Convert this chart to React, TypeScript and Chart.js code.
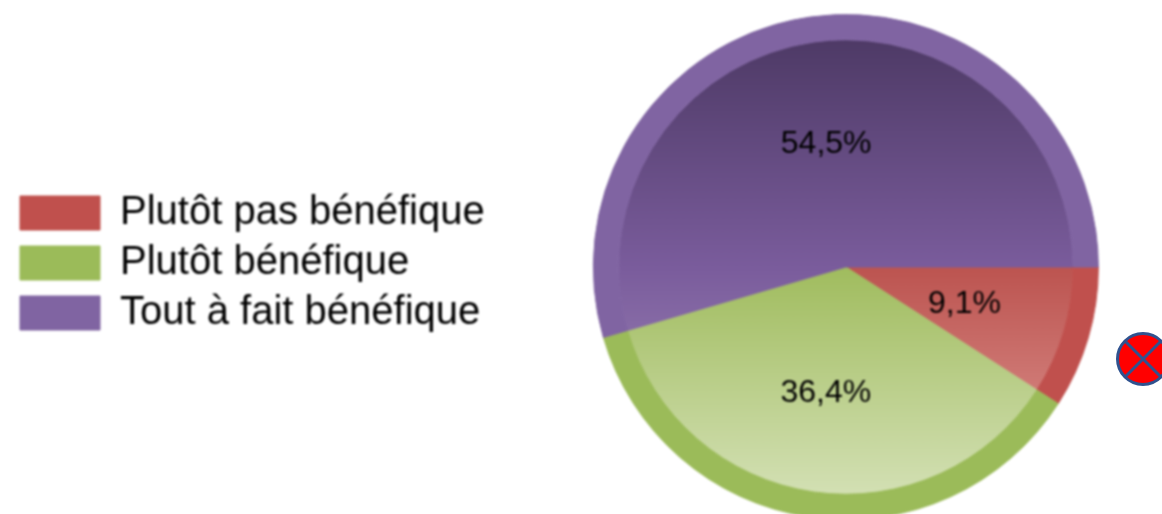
import React, { useEffect, useRef } from "react";
import { Chart, registerables } from "chart.js";

Chart.register(...registerables);

const categories = ["Plutôt pas bénéfique", "Plutôt bénéfique", "Tout à fait bénéfique"];
const shares = [9.1, 36.4, 54.5];
const ringColors = ["#c0504d", "#9bbb59", "#8064a2"];
const darkStops = ["#a8403c", "#7f9a45", "#4e3a66"];
const midStops = ["#bc5450", "#a0bc5e", "#7a5c9c"];
const lightStops = ["#e09a96", "#d3e0b4", "#a892c0"];

const percentLabels = {
  id: "percentLabels",
  afterLayout(chart: any) {
    chart.legend.top -= 4;
    chart.legend.bottom -= 4;
  },
  afterDatasetsDraw(chart: any) {
    const meta = chart.getDatasetMeta(1);
    const { ctx } = chart;
    ctx.save();
    ctx.font = '32px "Liberation Sans"';
    ctx.fillStyle = "#000000";
    ctx.textAlign = "center";
    ctx.textBaseline = "middle";
    meta.data.forEach((arc: any, i: number) => {
      const { startAngle, endAngle, outerRadius, x, y } = arc.getProps(
        ["startAngle", "endAngle", "outerRadius", "x", "y"],
        true
      );
      const mid = (startAngle + endAngle) / 2;
      const r = outerRadius * 0.553;
      ctx.fillText(
        shares[i].toFixed(1).replace(".", ",") + "%",
        x + Math.cos(mid) * r - 2,
        y + Math.sin(mid) * r + 2
      );
    });
    ctx.restore();
  },
};

const innerFill = (c: any) => {
  const area = c.chart.chartArea;
  if (!area) return midStops[c.dataIndex];
  const g = c.chart.ctx.createLinearGradient(0, area.top + 26, 0, area.bottom - 25);
  g.addColorStop(0, darkStops[c.dataIndex]);
  g.addColorStop(0.5, midStops[c.dataIndex]);
  g.addColorStop(1, lightStops[c.dataIndex]);
  return g;
};

export default function App() {
  const ref = useRef<HTMLCanvasElement>(null);
  useEffect(() => {
    const chart = new Chart(ref.current!, {
      type: "pie",
      data: {
        labels: categories,
        datasets: [
          { data: shares, backgroundColor: ringColors, borderColor: ringColors, borderWidth: 1, weight: 1 },
          { data: shares, backgroundColor: innerFill, borderColor: innerFill, borderWidth: 1, weight: 9 },
        ],
      } as any,
      options: {
        animation: false,
        responsive: false,
        rotation: 90,
        layout: { padding: { top: 14, bottom: 14, right: 53, left: 10 } },
        events: [],
        plugins: {
          tooltip: { enabled: false },
          legend: {
            position: "left",
            labels: {
              boxWidth: 80,
              boxHeight: 34,
              padding: 10,
              color: "#000000",
              font: { family: "Liberation Sans", size: 40, lineHeight: 1 },
            },
          },
        },
      } as any,
      plugins: [percentLabels],
    });
    return () => chart.destroy();
  }, []);
  return (
    <div style={{ position: "fixed", left: 0, top: 0, width: 1162, height: 514, overflow: "hidden", background: "#fff" }}>
      <canvas ref={ref} width={1250} height={534} style={{ display: "block", width: 1250, height: 534, filter: "blur(1px)" }} />
      <svg width={60} height={60} style={{ position: "absolute", left: 1113, top: 329, filter: "blur(0.5px)" }}>
        <circle cx={30} cy={30} r={25.5} fill="#ff0000" stroke="#2f528f" strokeWidth={3} />
        <line x1={12} y1={12} x2={48} y2={48} stroke="#2f528f" strokeWidth={3} />
        <line x1={48} y1={12} x2={12} y2={48} stroke="#2f528f" strokeWidth={3} />
      </svg>
    </div>
  );
}
